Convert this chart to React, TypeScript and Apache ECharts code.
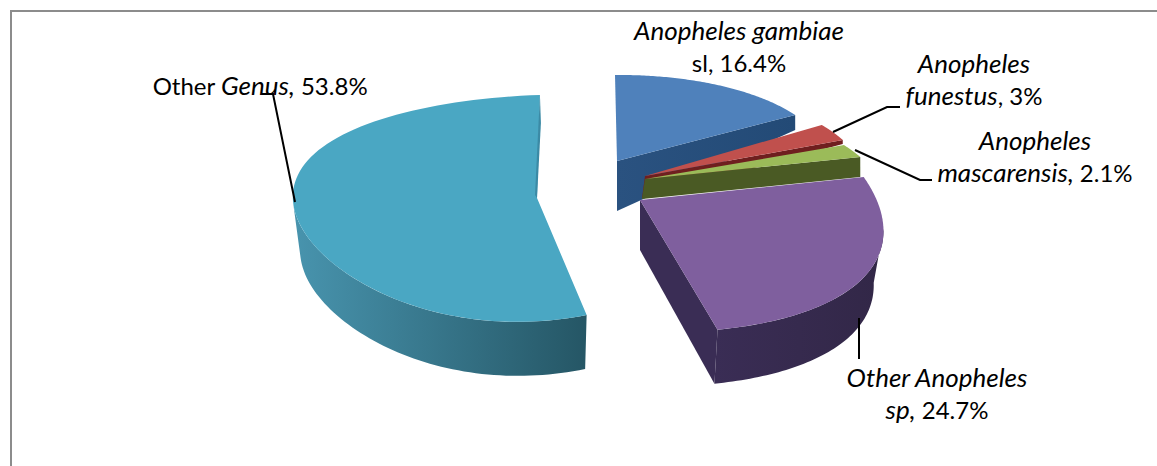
import React, { useEffect, useRef } from "react";
import * as echarts from "echarts";

// Share of each mosquito group, in per cent, clockwise from twelve o'clock.
const categories = [
  "Anopheles gambiae sl",
  "Anopheles funestus",
  "Anopheles mascarensis",
  "Other Anopheles sp",
  "Other Genus",
];
const shares = [16.4, 3, 2.1, 24.7, 53.8];

const topColors = ["#4f81bb", "#c0504d", "#9bbb59", "#7f5f9e", "#4aa7c3"];
const wallColors: [string, string][] = [
  ["#2a5280", "#234a76"],
  ["#6f1f1f", "#6f1f1f"],
  ["#4a5a24", "#4a5a24"],
  ["#3a2d55", "#322747"],
  ["#4894ae", "#255665"],
];

// Where each exploded wedge sits and how its rim is projected onto the page.
const wedgeShapes = [
  { tx: 617, ty: 161, a: 209, b: -2, c: 86, d: 2, kx: 0, ky: 0, tipDepth: 50, endDepth: 15, shrink: 1, rimFrom: -1 },
  { tx: 645, ty: 176, a: 218, b: -20, c: 91, d: 5, kx: 0, ky: 0, tipDepth: 22, endDepth: 4, shrink: 1, rimFrom: -1 },
  { tx: 645, ty: 179, a: 234, b: -60, c: 95, d: 1.3, kx: 0, ky: 0, tipDepth: 20, endDepth: 20, shrink: 1, rimFrom: -1 },
  { tx: 640, ty: 200, a: 239, b: -10, c: 132, d: -6, kx: 0.15, ky: 0, tipDepth: 50, endDepth: 54, shrink: 0.96, rimFrom: 100 },
  { tx: 537, ty: 198, a: 243, b: 2.6, c: 112.3, d: 10, kx: -0.11, ky: 0.09, tipDepth: 53, endDepth: 54, shrink: 0.97, rimFrom: -1 },
];

// Leader lines from each wedge to its caption.
const leaders = [
  [[262, 94], [273, 94], [295, 202]],
  [[833, 132], [887, 107], [900, 107]],
  [[855, 150], [920, 180], [932, 180]],
  [[859, 318], [859, 359]],
];

const FONT = "Lato";
const pct = (v: number) => `${v}%`;

const captions = [
  { x: 739, y: 46, text: `{i|Anopheles gambiae}\n{n|sl, ${pct(shares[0])}}` },
  { x: 974, y: 79, text: `{i|Anopheles}\n{i|funestus}{n|, ${pct(shares[1])}}` },
  { x: 1035, y: 156, text: `{i|Anopheles}\n{i|mascarensis,} {n|${pct(shares[2])}}` },
  { x: 937, y: 393, text: `{i|Other Anopheles}\n{i|sp,} {n|${pct(shares[3])}}` },
  { x: 260, y: 85, text: `{n|Other }{i|Genus,} {n|${pct(shares[4])}}` },
];

const total = shares.reduce((s, v) => s + v, 0);

function rimPoint(s: (typeof wedgeShapes)[number], deg: number): number[] {
  const t = (deg * Math.PI) / 180;
  const sn = Math.sin(t);
  const cs = Math.cos(t);
  return [
    s.tx + (s.a * sn + s.b * cs) / (1 + s.kx * cs),
    s.ty - (s.c * cs + s.d * sn) / (1 + s.ky * cs),
  ];
}

function lowerPoint(s: (typeof wedgeShapes)[number], p: number[]): number[] {
  return [s.tx + (p[0] - s.tx) * s.shrink, p[1] + s.endDepth];
}

function renderWedge(params: any, api: any) {
  const i = params.dataIndex;
  const s = wedgeShapes[i];
  const before = shares.slice(0, i).reduce((acc, v) => acc + v, 0);
  const start = (before / total) * 360;
  const end = start + (api.value(0) / total) * 360;

  const rim: number[][] = [];
  for (let k = 0; k <= 96; k++) rim.push(rimPoint(s, start + ((end - start) * k) / 96));
  const tip = [s.tx, s.ty];
  const endRim = rim[rim.length - 1];
  const children: any[] = [];
  const wallFill = {
    type: "linear", x: 0, y: 0, x2: 1, y2: 0,
    colorStops: [
      { offset: 0, color: wallColors[i][0] },
      { offset: 1, color: wallColors[i][1] },
    ],
  };

  if (i === 4) {
    // The long wedge shows its curved front and a sliver of its cut face.
    const curve: number[][] = [];
    for (let k = 0; k <= 64; k++) {
      curve.push(rimPoint(s, start + ((272 - start) * k) / 64));
    }
    children.push({
      type: "polygon",
      shape: { points: [...curve, ...curve.slice().reverse().map((p) => lowerPoint(s, p))] },
      style: { fill: wallFill },
    });
  } else if (i === 3) {
    // Purple wedge: outer curve plus the cut face turned towards the viewer.
    const curve: number[][] = [];
    for (let k = 0; k <= 64; k++) {
      curve.push(rimPoint(s, s.rimFrom + ((end - s.rimFrom) * k) / 64));
    }
    children.push({
      type: "polygon",
      shape: { points: [...curve, ...curve.slice().reverse().map((p) => lowerPoint(s, p))] },
      style: { fill: wallFill },
    });
    children.push({
      type: "polygon",
      shape: { points: [tip, endRim, lowerPoint(s, endRim), [s.tx, s.ty + s.tipDepth]] },
      style: { fill: wallColors[i][0] },
    });
  } else {
    children.push({
      type: "polygon",
      shape: {
        points: [tip, endRim, [endRim[0], endRim[1] + s.endDepth], [s.tx - (i ? 3 : 0), s.ty + s.tipDepth]],
      },
      style: { fill: wallFill },
    });
  }

  children.push({
    type: "polygon",
    shape: { points: [tip, ...rim] },
    style: { fill: topColors[i] },
  });

  if (i === 4) {
    children.push({
      type: "polygon",
      shape: {
        points: [endRim, [s.tx - 2, s.ty - 3], tip, [endRim[0] + 1, endRim[1] + 28]],
      },
      style: { fill: "#3b8aa5" },
    });
  }
  return { type: "group", children };
}

export default function App() {
  const ref = useRef<HTMLDivElement>(null);

  useEffect(() => {
    document.body.style.margin = "0";
    document.body.style.overflow = "hidden";
    const chart = echarts.init(ref.current!, undefined, { renderer: "svg" });
    chart.setOption({
      animation: false,
      backgroundColor: "#ffffff",
      series: [
        {
          type: "custom",
          coordinateSystem: "none",
          renderItem: renderWedge,
          data: shares.map((v, i) => ({ name: categories[i], value: [v] })),
          encode: { value: 0 },
          silent: true,
        },
      ],
      graphic: [
        { type: "line", shape: { x1: 11, y1: 11, x2: 1157, y2: 11 }, style: { stroke: "#8c8c8c", lineWidth: 2 }, z: 1 },
        { type: "line", shape: { x1: 11, y1: 10, x2: 11, y2: 466 }, style: { stroke: "#8c8c8c", lineWidth: 2 }, z: 1 },
        ...leaders.map((pts) => ({
          type: "polyline",
          shape: { points: pts },
          style: { stroke: "#000000", lineWidth: 2, fill: "none" },
          z: 10,
        })),
        ...captions.map((c) => ({
          type: "text",
          x: c.x,
          y: c.y,
          z: 11,
          style: {
            text: c.text,
            x: 0,
            y: 0,
            align: "center",
            verticalAlign: "middle",
            fill: "#000000",
            font: `24px ${FONT}`,
            lineHeight: 32,
            rich: {
              i: { font: `italic 26px ${FONT}`, fill: "#000000", lineHeight: 32 },
              n: { font: `24px ${FONT}`, fill: "#000000", lineHeight: 32 },
            },
          },
        })),
      ],
    });
    return () => chart.dispose();
  }, []);

  return <div ref={ref} style={{ position: "fixed", left: 0, top: 0, width: 1157, height: 466 }} />;
}
